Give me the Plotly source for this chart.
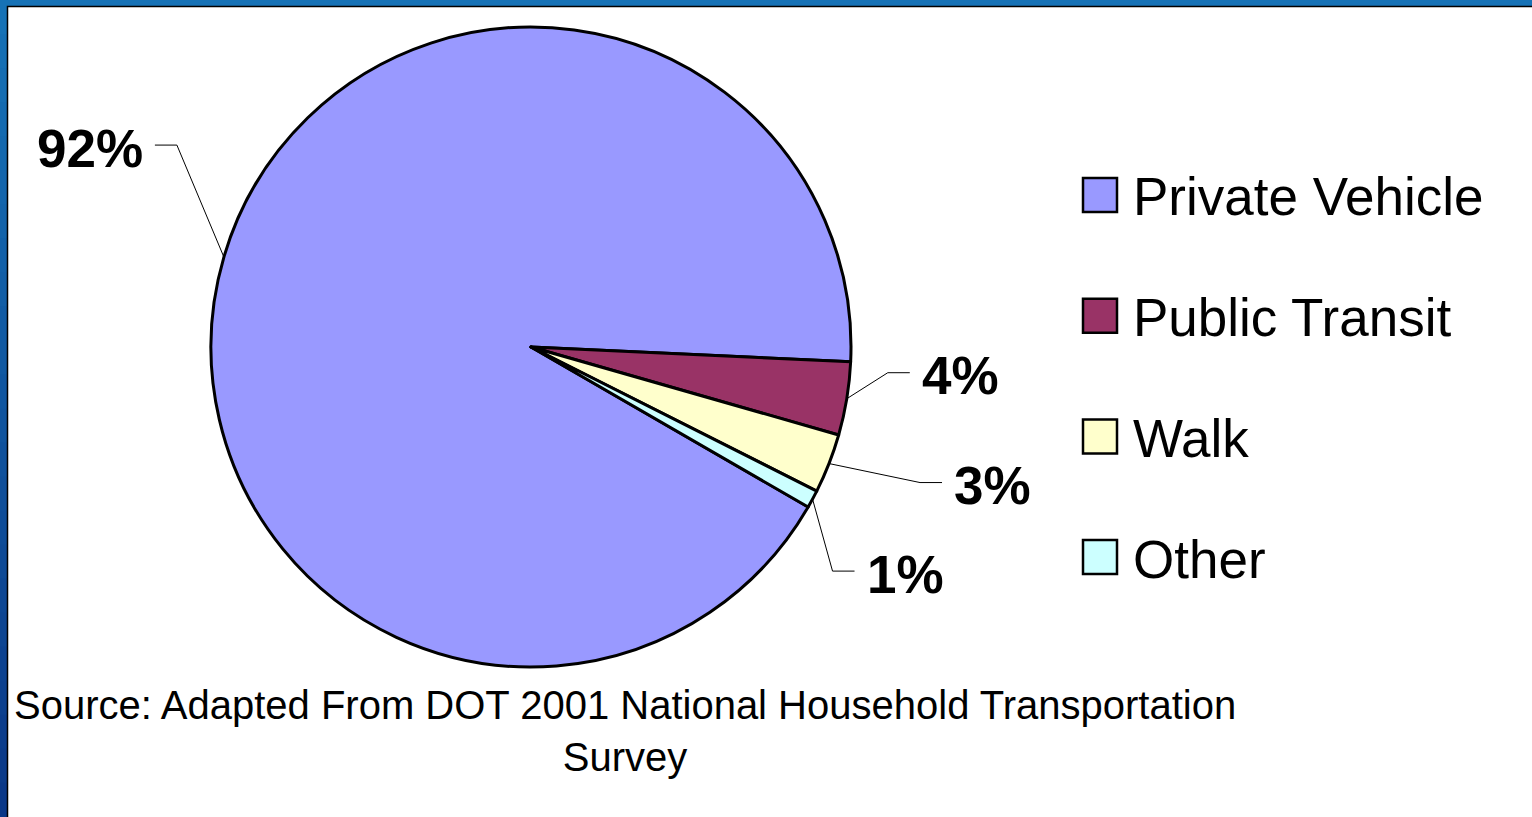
import math
import plotly.graph_objects as go

# ---- data ----
modes = ["Private Vehicle", "Public Transit", "Walk", "Other"]
shares = [92.4, 3.7, 3.0, 0.9]
colors = ["#9999FF", "#993366", "#FFFFCC", "#CCFFFF"]
source_text = "Source: Adapted From DOT 2001 National Household Transportation<br>Survey"

# ---- layout constants (pixels) ----
W, H = 1532, 817
CX, CY, R = 531, 347, 320
ROTATION = 120
# label leader-line end offsets from slice anchor (px), and text side
label_offsets = [(-69, -112), (63, -26), (113, 19), (42, 72)]
label_side = ["right", "left", "left", "left"]
ELBOW = 22
GAP = 10


def px(x):
    return x / W


def py(y):
    return 1 - y / H


fig = go.Figure()
fig.add_trace(go.Pie(
    labels=modes,
    values=shares,
    sort=False,
    direction="clockwise",
    rotation=ROTATION,
    marker=dict(colors=colors, line=dict(color="black", width=3)),
    textinfo="none",
    hoverinfo="label+percent",
    showlegend=False,
    domain=dict(x=[px(CX - R), px(CX + R)], y=[py(CY + R), py(CY - R)]),
))

shapes = []
annotations = []

# slice labels with leader lines, anchored at slice mid-angles
total = sum(shares)
start = ROTATION
for i, v in enumerate(shares):
    sweep = 360 * v / total
    mid = math.radians(start + sweep / 2)
    start += sweep
    ax_ = CX + R * math.sin(mid)
    ay_ = CY - R * math.cos(mid)
    dx, dy = label_offsets[i]
    ex, ey = ax_ + dx, ay_ + dy
    if label_side[i] == "right":
        elx = ex + ELBOW
        tx = ex - GAP
        xanchor = "right"
    else:
        elx = ex - ELBOW
        tx = ex + GAP
        xanchor = "left"
    shapes.append(dict(
        type="path", xref="paper", yref="paper",
        path=f"M {px(ax_)} {py(ay_)} L {px(elx)} {py(ey)} L {px(ex)} {py(ey)}",
        line=dict(color="black", width=1),
    ))
    annotations.append(dict(
        x=px(tx), y=py(ey + 3), xref="paper", yref="paper",
        xanchor=xanchor, yanchor="middle", showarrow=False,
        text=f"<b>{round(100 * v / total)}%</b>",
        font=dict(family="Liberation Sans, Arial", size=53, color="black"),
    ))

# legend (manual, to match large square swatches)
LEG_X, LEG_Y0, LEG_DY, SQ = 1083, 195, 120.7, 34
for i, (name, c) in enumerate(zip(modes, colors)):
    yc = LEG_Y0 + i * LEG_DY
    shapes.append(dict(
        type="rect", xref="paper", yref="paper",
        x0=px(LEG_X), x1=px(LEG_X + SQ), y0=py(yc + SQ / 2), y1=py(yc - SQ / 2),
        fillcolor=c, line=dict(color="black", width=2.5),
    ))
    annotations.append(dict(
        x=px(LEG_X + SQ + 14), y=py(yc + 2), xref="paper", yref="paper",
        xanchor="left", yanchor="middle", showarrow=False, text=name,
        font=dict(family="Liberation Sans, Arial", size=53, color="black"),
    ))

# source note
annotations.append(dict(
    x=px(625), y=py(731), xref="paper", yref="paper",
    xanchor="center", yanchor="middle", showarrow=False, align="center",
    text=source_text,
    font=dict(family="Liberation Sans, Arial", size=40, color="black"),
))

# slide frame: blue strip (left strip darkens toward bottom) and white content area
frame = []
top_rgb = (22, 114, 182)
bot_rgb = (10, 56, 136)
NB = 24
for k in range(NB):
    t = k / (NB - 1)
    rgb = tuple(round(a + (b - a) * t) for a, b in zip(top_rgb, bot_rgb))
    frame.append(dict(
        type="rect", xref="paper", yref="paper", layer="below",
        x0=0, x1=px(8), y0=py(H * (k + 1) / NB + 1), y1=py(H * k / NB),
        fillcolor=f"rgb{rgb}", line=dict(width=0),
    ))
frame.append(dict(
    type="rect", xref="paper", yref="paper", layer="below",
    x0=px(7.5), x1=1.01, y0=-0.01, y1=py(6.5),
    fillcolor="white", line=dict(color="black", width=1.5),
))

fig.update_layout(
    width=W, height=H,
    margin=dict(l=0, r=0, t=0, b=0),
    paper_bgcolor="#1672b6",
    plot_bgcolor="white",
    shapes=frame + shapes,
    annotations=annotations,
)

fig.write_html(
    "out.html",
    config={"displayModeBar": False},
    post_script="document.body.style.margin='0';document.body.style.overflow='hidden';",
)
